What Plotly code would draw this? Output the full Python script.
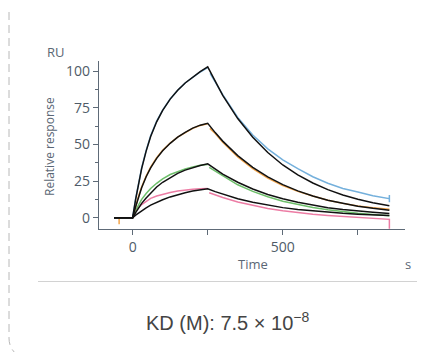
import plotly.graph_objects as go

# ---- data ----
baseline_t = [-62]
time_assoc = [0, 10, 20, 30, 45, 60, 80, 100, 125, 150, 175, 200, 225, 250]
time_diss = [275, 300, 350, 400, 450, 500, 550, 600, 650, 700, 750, 800, 855]

blue_assoc = [0, 13, 25, 34, 46, 56, 66, 73.5, 81, 87, 92, 96, 99.5, 102.5]
blue_diss_start = (258, 98.6)
blue_diss = [92.5, 84, 68.5, 56.5, 47, 39.5, 33.5, 28, 23.5, 20, 17.5, 15, 13]
blue_fit_assoc = [0, 12.5, 24, 33.5, 45.5, 55.5, 65.5, 73.3, 81, 87, 92, 96.2, 99.8, 103]
blue_fit_diss = [92.7, 83.5, 67.7, 54.9, 44.5, 36.0, 29.2, 23.7, 19.2, 15.5, 12.6, 10.2, 8.1]
blue_end_spike = [15.5, 10.5]

orange_assoc = [0, 8, 15, 21, 28.5, 34.5, 41, 46, 51, 55, 58.3, 61, 63, 64.2]
orange_diss_start = (257, 61)
orange_diss = [57.5, 51.5, 41.5, 33.5, 27, 22, 18, 14.8, 12, 9.8, 8, 6.8, 5.7]
orange_fit_assoc = [0, 7.5, 14.5, 20.5, 28, 34, 40.5, 45.7, 50.8, 55, 58.3, 61.2, 63.2, 64.5]
orange_fit_diss = [58.1, 52.3, 42.4, 34.4, 27.9, 22.6, 18.3, 14.8, 12.0, 9.7, 7.9, 6.4, 5.1]
orange_start_spike = (-45, -4.5)

green_assoc = [0, 5, 9, 12.5, 16.5, 20, 23.5, 26.5, 29.5, 31.5, 33.3, 34.7, 35.8, 36.3]
green_diss_start = (255, 34.4)
green_diss = [32, 28.5, 22.5, 18, 14.3, 11.3, 9, 7, 5.5, 4.2, 3.1, 2.2, 1.4]
green_fit_assoc = [0, 3.5, 6.8, 9.8, 13.5, 17, 21, 24.2, 27.5, 30.3, 32.5, 34.3, 35.7, 36.8]
green_fit_diss = [33.1, 29.8, 24.2, 19.6, 15.9, 12.9, 10.5, 8.5, 6.8, 5.6, 4.5, 3.7, 2.9]

pink_assoc = [0, 4, 7, 9, 11.2, 13.2, 14.8, 16, 17.2, 18.2, 19, 19.5, 19.8, 20]
pink_diss_start = (255, 17)
pink_diss = [15.5, 13.8, 10.8, 8.3, 6.3, 4.7, 3.4, 2.4, 1.6, 0.9, 0.3, -0.3, -1.1]
pink_fit_assoc = [0, 1.8, 3.4, 4.8, 6.8, 8.6, 10.6, 12.3, 14.2, 15.8, 17.1, 18.2, 19.1, 19.8]
pink_fit_diss = [17.8, 16.1, 13.0, 10.6, 8.6, 6.9, 5.6, 4.6, 3.7, 3.0, 2.4, 2.0, 1.6]
pink_end_spike = [-7.5]

colors = {"blue": "#74b0dc", "orange": "#f4a54a", "green": "#6dbf6a", "pink": "#ec7ca4"}

# The page body has an 8px default margin; size the figure so it lands where the reference is.
OFF = 8
W, H = 425 - OFF, 352 - OFF
ML, MR, MT, MB = 99 - OFF, 20, 61 - OFF, 123
PW, PH = W - ML - MR, H - MT - MB


def px(x):
    return (x - OFF - ML) / PW


def py(y):
    return (H - MB - (y - OFF)) / PH


fig = go.Figure()


def data_trace(assoc, start, diss, color, extra_x=None, extra_y=None, pre_x=None, pre_y=None):
    xs = list(baseline_t) + (pre_x or []) + time_assoc + [None, start[0]] + time_diss + (extra_x or [])
    ys = [0] + (pre_y or []) + assoc + [None, start[1]] + diss + (extra_y or [])
    fig.add_trace(go.Scatter(x=xs, y=ys, mode="lines", line=dict(color=color, width=1.5),
                             hoverinfo="skip", showlegend=False, connectgaps=False))


data_trace(pink_assoc, pink_diss_start, pink_diss, colors["pink"],
           extra_x=[855] * len(pink_end_spike), extra_y=pink_end_spike)
data_trace(green_assoc, green_diss_start, green_diss, colors["green"])
data_trace(orange_assoc, orange_diss_start, orange_diss, colors["orange"],
           pre_x=[orange_start_spike[0], orange_start_spike[0], orange_start_spike[0]],
           pre_y=[0, orange_start_spike[1], 0])
data_trace(blue_assoc, blue_diss_start, blue_diss, colors["blue"],
           extra_x=[855, 855, 855], extra_y=[blue_end_spike[0], blue_end_spike[1], blue_diss[-1]])

for fa, fd in [(pink_fit_assoc, pink_fit_diss), (green_fit_assoc, green_fit_diss),
               (orange_fit_assoc, orange_fit_diss), (blue_fit_assoc, blue_fit_diss)]:
    fig.add_trace(go.Scatter(x=list(baseline_t) + time_assoc + time_diss,
                             y=[0] + fa + fd, mode="lines",
                             line=dict(color="#111111", width=1.5),
                             hoverinfo="skip", showlegend=False))

axis_color = "#5e6a77"
tick_font = dict(family="Open Sans, Noto Sans, sans-serif", size=14, color="#4f5b68")

fig.update_xaxes(range=[-112, 907], showline=True, linecolor=axis_color, linewidth=1.2,
                 ticks="outside", ticklen=5, tickcolor=axis_color, tickwidth=1,
                 tickvals=[0, 500], ticktext=["0", "500"],
                 minor=dict(tickvals=[250, 750], ticklen=5, tickcolor=axis_color, ticks="outside"),
                 showgrid=False, zeroline=False, tickfont=tick_font)
fig.update_yaxes(range=[-7.7, 107], showline=True, linecolor=axis_color, linewidth=1.2,
                 ticks="outside", ticklen=5, tickcolor=axis_color, tickwidth=1,
                 tickvals=[0, 25, 50, 75, 100],
                 minor=dict(dtick=12.5, ticklen=3, tickcolor=axis_color, ticks="outside"),
                 showgrid=False, zeroline=False, tickfont=tick_font)

label_font = dict(family="Open Sans, Noto Sans, sans-serif", size=12, color="#5b6775")
annotations = [
    dict(x=px(56), y=py(52), text="RU", font=dict(label_font, size=13)),
    dict(x=px(49), y=py(147), text="Relative response", textangle=-90, font=label_font),
    dict(x=px(253), y=py(264), text="Time", font=dict(label_font, size=13)),
    dict(x=px(408), y=py(264), text="s", font=dict(label_font, size=13)),
    dict(x=px(227), y=py(321), text="KD (M): 7.5 × 10<sup>−8</sup>",
         font=dict(family="Liberation Sans, Arial, sans-serif", size=20, color="#444444")),
]
for a in annotations:
    a.update(xref="paper", yref="paper", showarrow=False, xanchor="center", yanchor="middle")

shapes = [
    dict(type="path", xref="paper", yref="paper",
         path=f"M {px(9)},{py(12)} L {px(9)},{py(338)} Q {px(9)},{py(350)} {px(20)},{py(357)}",
         line=dict(color="#b8b8b8", width=1, dash="8px,5px")),
    dict(type="line", xref="paper", yref="paper", x0=px(38), x1=px(417), y0=py(281.5), y1=py(281.5),
         line=dict(color="#d2d2d2", width=1)),
]

fig.update_layout(width=W, height=H, margin=dict(l=ML, r=MR, t=MT, b=MB),
                  plot_bgcolor="white", paper_bgcolor="white",
                  annotations=annotations, shapes=shapes, showlegend=False)

fig.write_html("out.html")
